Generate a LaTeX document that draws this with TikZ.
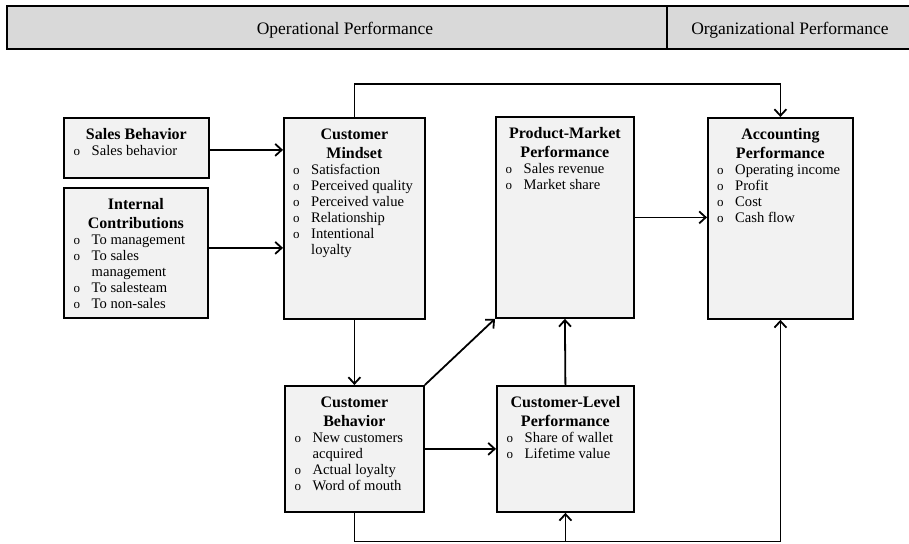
\documentclass[tikz,border=0pt]{standalone}
\usepackage{fontspec}
\setmainfont{Liberation Serif}
\usetikzlibrary{arrows.meta,positioning,calc}
\definecolor{barfill}{HTML}{D9D9D9}
\definecolor{boxfill}{HTML}{F2F2F2}
\newcommand\itm[1]{\makebox[18pt][l]{\fontsize{13}{13}\selectfont o}#1}
\newcommand\cnt[1]{\hspace*{18pt}#1}
\newcommand\fstrut{\rule{0pt}{11pt}}
\newcommand\tstrut{\rule{0pt}{12pt}}
\begin{document}
\begin{tikzpicture}[x=1pt,y=-1pt,
  bar/.style={draw,line width=1.8pt,fill=barfill},
  boxx/.style={draw,line width=1.8pt,fill=boxfill},
  ttl/.style={inner sep=0pt,align=center,font=\fontsize{16}{19}\selectfont\bfseries,anchor=north},
  lst/.style={inner sep=0pt,align=left,font=\fontsize{14.6}{16}\selectfont,anchor=north west},
  hdr/.style={inner sep=0pt,font=\fontsize{17.5}{20}\selectfont,anchor=base},
  arr/.style={line width=1.8pt,-{Straight Barb[length=6.5pt,width=12pt]}},
  ln/.style={line width=1.8pt}]
\useasboundingbox (0,0) rectangle (909,543);
% header bar
\draw[bar] (7,6) rectangle (667,49);
\draw[bar] (667,6) rectangle (915,49);
\node[hdr] (hop) at (345,35) {Operational Performance};
\node[hdr] (hor) at (790,35) {Organizational Performance};
% boxes
\node[boxx] (sb) at (63,117) [anchor=north west,minimum width=145pt,minimum height=60pt,inner sep=0pt] {};
\node[boxx] (ic) at (63,187) [anchor=north west,minimum width=144pt,minimum height=130pt,inner sep=0pt] {};
\node[boxx] (mind) at (283,117) [anchor=north west,minimum width=141pt,minimum height=201pt,inner sep=0pt] {};
\node[boxx] (pm) at (495,116) [anchor=north west,minimum width=138pt,minimum height=201pt,inner sep=0pt] {};
\node[boxx] (acc) at (707,117) [anchor=north west,minimum width=145pt,minimum height=201pt,inner sep=0pt] {};
\node[boxx] (beh) at (284,385) [anchor=north west,minimum width=139pt,minimum height=126pt,inner sep=0pt] {};
\node[boxx] (cl) at (496,385) [anchor=north west,minimum width=137pt,minimum height=126pt,inner sep=0pt] {};
% titles
\node[ttl,below=10pt of sb.north] (sbT) {\tstrut Sales Behavior};
\node[ttl,below=10pt of ic.north] (icT) {\tstrut Internal\\Contributions};
\node[ttl,below=10pt of mind.north] (mindT) {\tstrut Customer\\Mindset};
\node[ttl,below=10pt of pm.north] (pmT) {\tstrut Product-Market\\Performance};
\node[ttl,below=10pt of acc.north] (accT) {\tstrut Accounting\\Performance};
\node[ttl,below=10pt of beh.north] (behT) {\tstrut Customer\\Behavior};
\node[ttl,below=10pt of cl.north] (clT) {\tstrut Customer-Level\\Performance};
% lists
\node[lst] (sbL) at ([xshift=10.5pt,yshift=-27pt]sb.north west) {\fstrut\itm{Sales behavior}};
\node[lst] (icL) at ([xshift=10.5pt,yshift=-46pt]ic.north west) {\fstrut\itm{To management}\\\itm{To sales}\\\cnt{management}\\\itm{To salesteam}\\\itm{To non-sales}};
\node[lst] (mindL) at ([xshift=10pt,yshift=-46pt]mind.north west) {\fstrut\itm{Satisfaction}\\\itm{Perceived quality}\\\itm{Perceived value}\\\itm{Relationship}\\\itm{Intentional}\\\cnt{loyalty}};
\node[lst] (pmL) at ([xshift=10.5pt,yshift=-46pt]pm.north west) {\fstrut\itm{Sales revenue}\\\itm{Market share}};
\node[lst] (accL) at ([xshift=10pt,yshift=-46pt]acc.north west) {\fstrut\itm{Operating income}\\\itm{Profit}\\\itm{Cost}\\\itm{Cash flow}};
\node[lst] (behL) at ([xshift=10.5pt,yshift=-46pt]beh.north west) {\fstrut\itm{New customers}\\\cnt{acquired}\\\itm{Actual loyalty}\\\itm{Word of mouth}};
\node[lst] (clL) at ([xshift=10.5pt,yshift=-46pt]cl.north west) {\fstrut\itm{Share of wallet}\\\itm{Lifetime value}};
% connectors
\coordinate (topL) at (mind.north |- 0,84);
\coordinate (topR) at (acc.north |- 0,84);
\coordinate (botL) at (beh.south |- 0,541.5);
\coordinate (botM) at (cl.south |- 0,541.5);
\coordinate (botR) at (acc.south |- 0,541.5);
\coordinate (sbA) at ([yshift=-2pt]sb.east);
\coordinate (icA) at ([yshift=5pt]ic.east);
\draw[arr] (sbA) -- (sbA -| mind.west);
\draw[arr] (icA) -- (icA -| mind.west);
\draw[arr] (mind.north) -- (topL) -- (topR) -- (acc.north);
\draw[arr] (pm.east) -- (pm.east -| acc.west);
\draw[arr] (mind.south) -- (beh.north);
\draw[arr] (beh.north east) -- (pm.south west);
\draw[arr] (beh.east) -- (beh.east -| cl.west);
\draw[arr] (cl.north) -- (pm.south);
\draw[arr] (beh.south) -- (botL) -- (botR) -- (acc.south);
\draw[arr] (botM) -- (cl.south);
\end{tikzpicture}
\end{document}
